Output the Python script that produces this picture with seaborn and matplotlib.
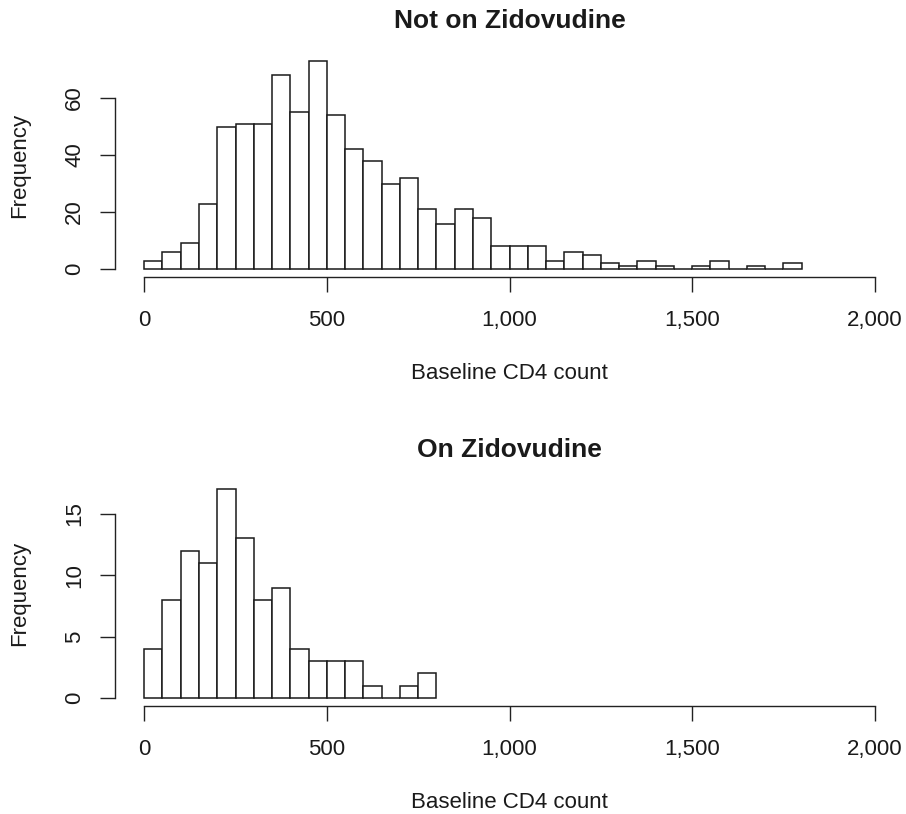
import numpy as np
import pandas as pd
import matplotlib
matplotlib.use("Agg")
import matplotlib.pyplot as plt
import seaborn as sns

# bin starts (width 50) and counts
bin_width = 50
not_on_starts = list(range(0, 1800, 50))
not_on_counts = [3, 6, 9, 23, 50, 51, 51, 68, 55, 73, 54, 42, 38, 30, 32, 21, 16, 21,
                 18, 8, 8, 8, 3, 6, 5, 2, 1, 3, 1, 0, 1, 3, 0, 1, 0, 2]
on_starts = list(range(0, 800, 50))
on_counts = [4, 8, 12, 11, 17, 13, 8, 9, 4, 3, 3, 3, 1, 0, 1, 2]

x_ticks = [0, 500, 1000, 1500, 2000]
x_tick_labels = ["0", "500", "1,000", "1,500", "2,000"]
top_y_ticks = [0, 20, 40, 60]
bottom_y_ticks = [0, 5, 10, 15]

sns.set_theme(style="white")
plt.rcParams["font.family"] = ["Liberation Sans", "DejaVu Sans"]
plt.rcParams["axes.edgecolor"] = "#222222"

fig = plt.figure(figsize=(9.06, 8.14), dpi=100)
W, H = 906, 814


def px_axes(left, top, right, bottom):
    return fig.add_axes([left / W, 1 - bottom / H, (right - left) / W, (bottom - top) / H])


def draw_panel(ax, starts, counts, title, yticks, ymax, title_y):
    df = pd.DataFrame({"cd4": starts, "n": counts})
    edges = [float(e) for e in np.arange(0, starts[-1] + 2 * bin_width, bin_width)]
    sns.histplot(data=df, x="cd4", weights="n", bins=edges, ax=ax,
                 color="white", edgecolor="#1a1a1a", linewidth=1.1, alpha=1)
    ax.set_xlim(-80, 2080)
    ax.set_ylim(-0.04 * ymax, ymax * 1.04)
    for s in ["top", "right"]:
        ax.spines[s].set_visible(False)
    ax.spines["left"].set_bounds(yticks[0], yticks[-1])
    ax.spines["bottom"].set_bounds(0, 2000)
    ax.spines["left"].set_linewidth(1.0)
    ax.spines["bottom"].set_linewidth(1.0)
    ax.set_xticks(x_ticks)
    ax.set_xticklabels(x_tick_labels)
    ax.set_yticks(yticks)
    ax.tick_params(axis="both", which="major", direction="out", length=10.5,
                   width=1.0, color="#222222", labelsize=16, labelcolor="#1a1a1a",
                   bottom=True, left=True)
    ax.tick_params(axis="x", pad=13)
    ax.tick_params(axis="y", pad=11, labelrotation=90)
    for lab in ax.get_yticklabels():
        lab.set_va("center")
    ax.set_xlabel("Baseline CD4 count", fontsize=16, color="#1a1a1a")
    ax.set_ylabel("Frequency", fontsize=16, color="#1a1a1a")
    ax.grid(False)
    ax.set_title(title, fontsize=19, fontweight="bold", color="#1a1a1a",
                 y=title_y, va="center", pad=0)
    return ax


# top panel: plot region in pixels
ax1 = px_axes(115, 52.6, 904, 277.5)
draw_panel(ax1, not_on_starts, not_on_counts, "Not on Zidovudine", top_y_ticks, 73,
           1 + (52.6 - 21) / 224.9)
ax1.xaxis.set_label_coords(0.5, -(374 - 277.5) / 224.9)
ax1.yaxis.set_label_coords((20 - 115) / 789, 0.5)
ax1.xaxis.label.set_va("center")
ax1.yaxis.label.set_va("center")

# bottom panel
ax2 = px_axes(115, 481, 904, 706.3)
draw_panel(ax2, on_starts, on_counts, "On Zidovudine", bottom_y_ticks, 17,
           1 + (481 - 450) / 225.3)
ax2.xaxis.set_label_coords(0.5, -(803 - 706.3) / 225.3)
ax2.yaxis.set_label_coords((20 - 115) / 789, 0.5)
ax2.xaxis.label.set_va("center")
ax2.yaxis.label.set_va("center")

fig.savefig("out.png", dpi=100, facecolor="white")
